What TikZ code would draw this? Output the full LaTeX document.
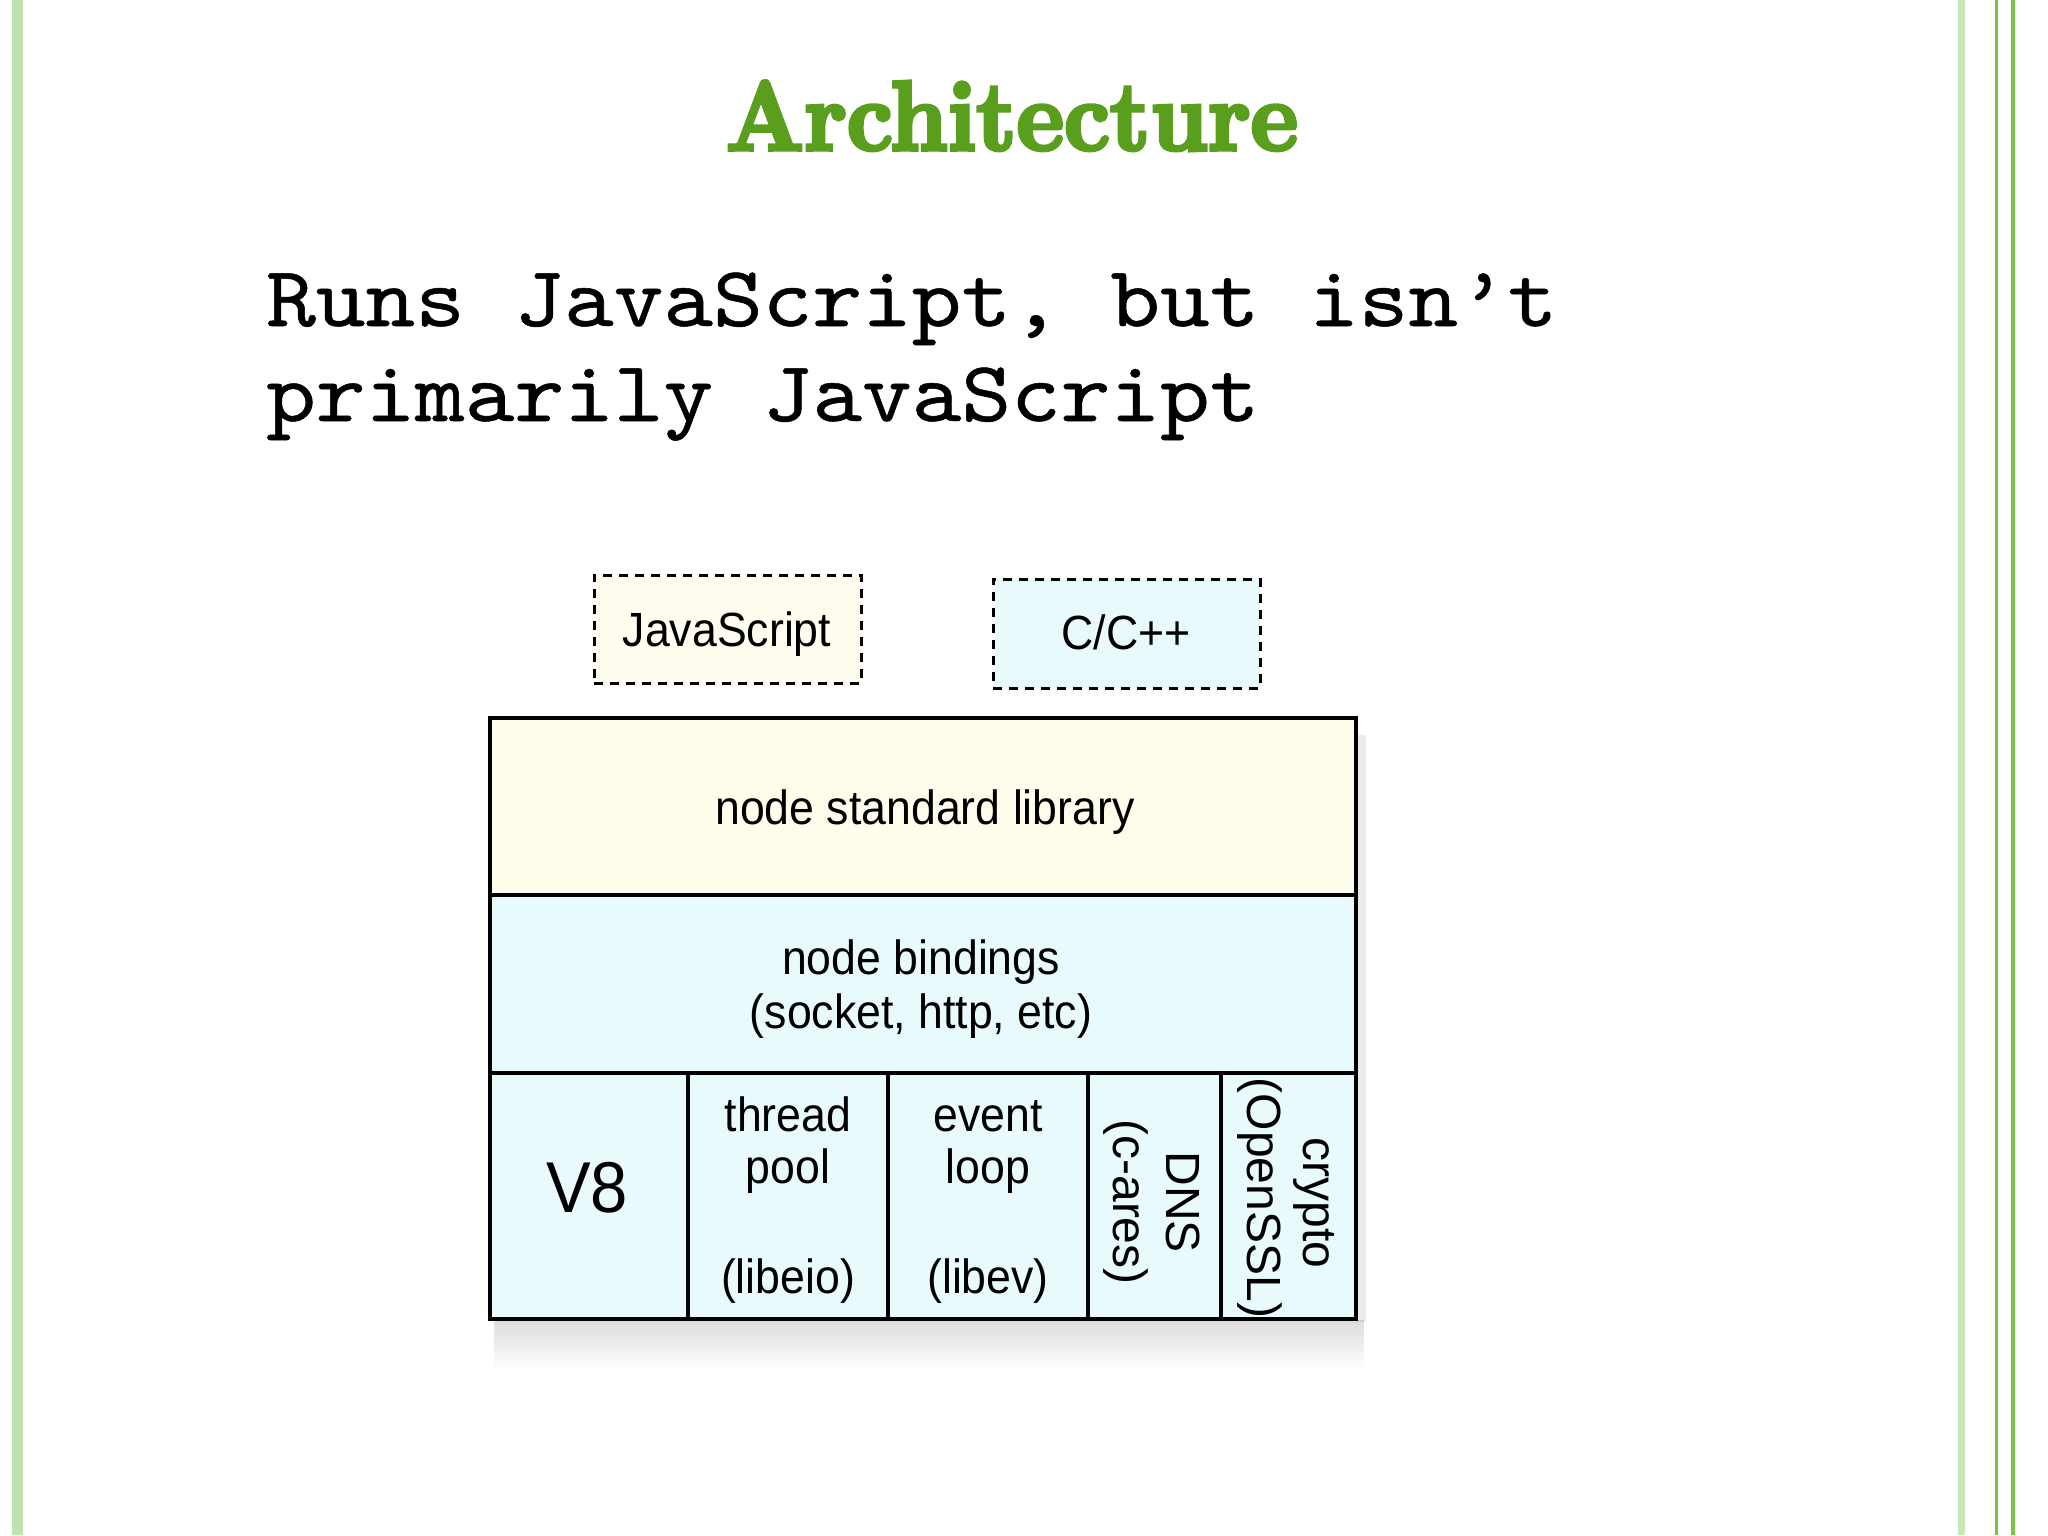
\documentclass[tikz,border=0pt]{standalone}
\usepackage{fontspec}
\setsansfont{Liberation Sans}[FakeStretch=0.93]
\newfontfamily\sfplain{Liberation Sans}
\newfontfamily\monof{lmmono10-regular.otf}[FakeBold=0.6,FakeStretch=1.1]
\newfontfamily\titlef{lmroman10-bold.otf}[FakeBold=3.8,FakeStretch=0.91]
\definecolor{titlegreen}{HTML}{5A9E1E}
\definecolor{barlight}{HTML}{BEE3AE}
\definecolor{barlighttwo}{HTML}{C6E7B9}
\definecolor{bargreen}{HTML}{74C447}
\definecolor{cream}{HTML}{FEFCEA}
\definecolor{creamtwo}{HTML}{FEFDF0}
\definecolor{cyanlt}{HTML}{E8FAFC}
\begin{document}
\begin{tikzpicture}[x=1pt,y=-1pt,
  cell/.style={draw=black,line width=3.5pt,rectangle,inner sep=0pt,anchor=center},
  dbox/.style={draw=black,line width=3pt,dash pattern=on 9pt off 7pt,rectangle,inner sep=0pt,anchor=center},
  lbl/.style={font=\sffamily\fontsize{48}{55}\selectfont,inner sep=0pt,anchor=base},
  rlbl/.style={font=\sfplain\fontsize{48}{55}\selectfont,inner sep=0pt,anchor=base,rotate=-90},
]
% background and bounding box
\fill[white] (0,0) rectangle (2048,1535);
\useasboundingbox (0,0) rectangle (2048,1535);
% side bars
\fill[barlight] (12,0) rectangle (23,1535);
\fill[barlighttwo] (1958,0) rectangle (1965,1535);
\fill[bargreen] (1995,0) rectangle (1997.5,1535);
\fill[bargreen] (2011,0) rectangle (2014.5,1535);
% title
\node[font=\titlef\fontsize{99}{110}\selectfont,text=titlegreen,inner sep=0pt,anchor=base] (title) at (1012,150) {Architecture};
% body text
\node[font=\monof\fontsize{86}{96}\selectfont,inner sep=0pt,anchor=base west] (lineone) at (266,326) {Runs JavaScript, but isn’t};
\node[font=\monof\fontsize{86}{96}\selectfont,inner sep=0pt,anchor=base west] (linetwo) at (266,421) {primarily JavaScript};
% legend boxes
\node[dbox,fill=creamtwo,minimum width=267pt,minimum height=108pt] (js) at (727.5,629) {};
\node[lbl] (jst) at (727,646) {JavaScript};
\node[dbox,fill=cyanlt,minimum width=267pt,minimum height=109pt] (cpp) at (1126.5,633.5) {};
\node[lbl] (cppt) at (1126,649) {C/C++};
% shadow
\foreach \i in {0,...,11}{
  \fill[black,opacity={0.13*(1-\i/12)}] (494,{1320+4*\i}) rectangle (1364,{1324+4*\i});
}
\fill[black,opacity=0.08] (1356,735) rectangle (1366,1322);
% stack
\node[cell,fill=cream,minimum width=866pt,minimum height=177pt] (stdlib) at (923,806.5) {};
\node[cell,fill=cyanlt,minimum width=866pt,minimum height=178pt] (bind) at (923,984) {};
\node[cell,fill=cyanlt,minimum width=198pt,minimum height=246pt] (veight) at (589,1196) {};
\node[cell,fill=cyanlt,minimum width=200pt,minimum height=246pt] (thread) at (788,1196) {};
\node[cell,fill=cyanlt,minimum width=200pt,minimum height=246pt] (event) at (988,1196) {};
\node[cell,fill=cyanlt,minimum width=133pt,minimum height=246pt] (dns) at (1154.5,1196) {};
\node[cell,fill=cyanlt,minimum width=135pt,minimum height=246pt] (crypto) at (1288.5,1196) {};
% labels
\node[lbl] (stdlibt) at (925,824) {node standard library};
\node[lbl] (bindt) at (921,974) {node bindings};
\node[lbl] (bindtt) at (921,1028) {(socket, http, etc)};
\node[lbl,font=\sffamily\fontsize{72}{80}\selectfont] (veightt) at (587,1212) {V8};
\node[lbl] (threadt) at (788,1131) {thread};
\node[lbl] (poolt) at (788,1183) {pool};
\node[lbl] (libeiot) at (788,1293) {(libeio)};
\node[lbl] (eventt) at (988,1131) {event};
\node[lbl] (loopt) at (988,1183) {loop};
\node[lbl] (libevt) at (988,1293) {(libev)};
\node[rlbl] (dnst) at (1166,1202) {DNS};
\node[rlbl] (caress) at (1113,1202) {(c-ares)};
\node[rlbl] (cryptot) at (1303,1203) {crypto};
\node[rlbl] (opensslt) at (1247,1198) {(OpenSSL)};
\end{tikzpicture}
\end{document}
